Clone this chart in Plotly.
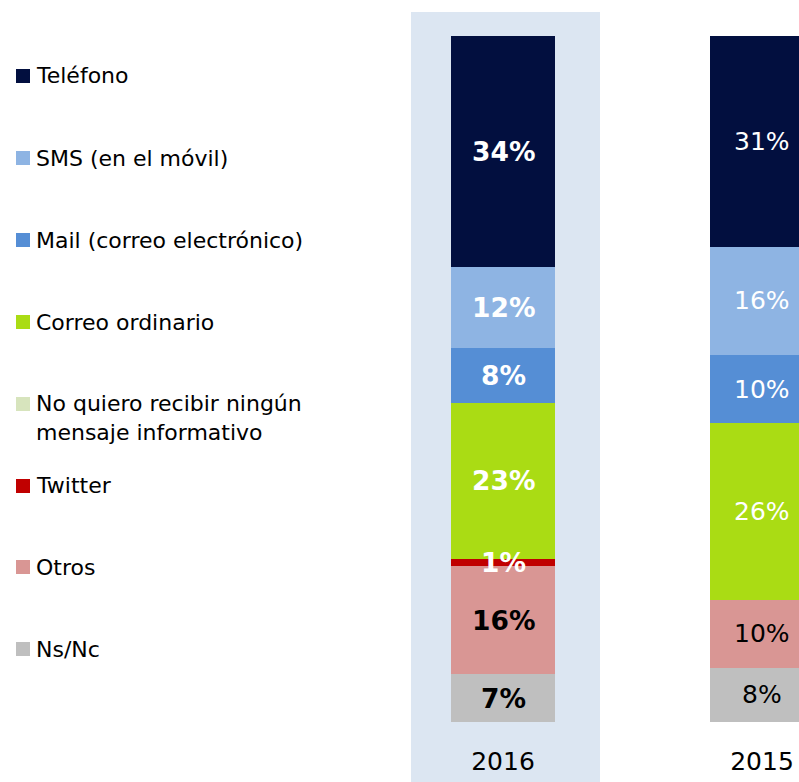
import plotly.graph_objects as go

# Survey: preferred channel for receiving informative messages
years = ["2016", "2015"]
channels = [
    "Teléfono",
    "SMS (en el móvil)",
    "Mail (correo electrónico)",
    "Correo ordinario",
    "No quiero recibir ningún<br>mensaje informativo",
    "Twitter",
    "Otros",
    "Ns/Nc",
]
telefono = [34, 31]
sms = [12, 16]
mail = [8, 10]
correo = [23, 26]
no_quiero = [0, 0]
twitter = [1, 0]
otros = [16, 10]
nsnc = [7, 8]

colors = ["#020F3F", "#8EB4E3", "#558ED5", "#AADC14",
          "#D7E4BD", "#C00000", "#D99694", "#BFBFBF"]
label_colors = ["white", "white", "white", "white",
                "white", "white", "black", "black"]

series_top_down = [telefono, sms, mail, correo, no_quiero, twitter, otros, nsnc]

FONT = "DejaVu Sans"
W, H = 799, 782
ML, MR, MT, MB = 0, 0, 36, 60
plot_w = W - ML - MR
plot_h = H - MT - MB

# category slot width in pixels and centre of the first bar
slot = 259.0
first_center = 503.0
x_range = [(ML - first_center) / slot, (W - MR - first_center) / slot]
total = 101

fig = go.Figure()

# stack from the bottom up
order_bottom_up = list(range(len(channels)))[::-1]
for i in order_bottom_up:
    fig.add_trace(go.Bar(
        x=years,
        y=series_top_down[i],
        name=channels[i],
        marker=dict(color=colors[i], line=dict(width=0)),
        showlegend=False,
        hoverinfo="skip",
    ))

# value labels centred in each segment (x given as category index)
annotations = []
for j, yr in enumerate(years):
    base = 0
    for i in order_bottom_up:
        v = series_top_down[i][j]
        if v:
            txt = f"{v}%"
            if j == 0:
                txt = f"<b>{txt}</b>"
            annotations.append(dict(
                x=j, y=base + v / 2, xref="x", yref="y",
                text=txt, showarrow=False,
                font=dict(family=FONT, size=26.5 if j == 0 else 25,
                          color=label_colors[i]),
                xanchor="center", yanchor="middle",
            ))
        base += v

# custom legend on the left
def px_to_paper_x(px):
    return (px - ML) / plot_w

def px_to_paper_y(py):
    return (H - MB - py) / plot_h

legend_centers = [76, 158, 240, 322, 404, 486, 567, 649]
shapes = []
for name, col, cy in zip(channels, colors, legend_centers):
    shapes.append(dict(
        type="rect", xref="paper", yref="paper",
        x0=px_to_paper_x(16), x1=px_to_paper_x(30),
        y0=px_to_paper_y(cy + 7), y1=px_to_paper_y(cy - 7),
        fillcolor=col, line=dict(width=0),
    ))
    n_lines = name.count("<br>") + 1
    ty = cy + (n_lines - 1) * 14
    annotations.append(dict(
        x=px_to_paper_x(33.5), y=px_to_paper_y(ty), xref="paper", yref="paper",
        text=name, showarrow=False, align="left",
        xanchor="left", yanchor="middle",
        font=dict(family=FONT, size=22, color="black"),
    ))

# highlight band behind the latest year
shapes.insert(0, dict(
    type="rect", xref="x", yref="paper",
    x0=(411 - first_center) / slot, x1=(600 - first_center) / slot,
    y0=px_to_paper_y(H + 5), y1=px_to_paper_y(12),
    fillcolor="#DCE6F2", line=dict(width=0), layer="below",
))

fig.update_layout(
    barmode="stack",
    bargap=1 - 104 / slot,
    width=W, height=H,
    margin=dict(l=ML, r=MR, t=MT, b=MB, pad=0),
    paper_bgcolor="white",
    plot_bgcolor="rgba(0,0,0,0)",
    shapes=shapes,
    annotations=annotations,
    font=dict(family=FONT, color="black"),
    xaxis=dict(
        type="category", range=x_range, showgrid=False, zeroline=False,
        showline=False, ticks="", tickfont=dict(family=FONT, size=25, color="black"),
        ticklabelstandoff=22, fixedrange=True,
    ),
    yaxis=dict(
        range=[0, total], visible=False, showgrid=False, fixedrange=True,
    ),
)

fig.write_html("out.html")
